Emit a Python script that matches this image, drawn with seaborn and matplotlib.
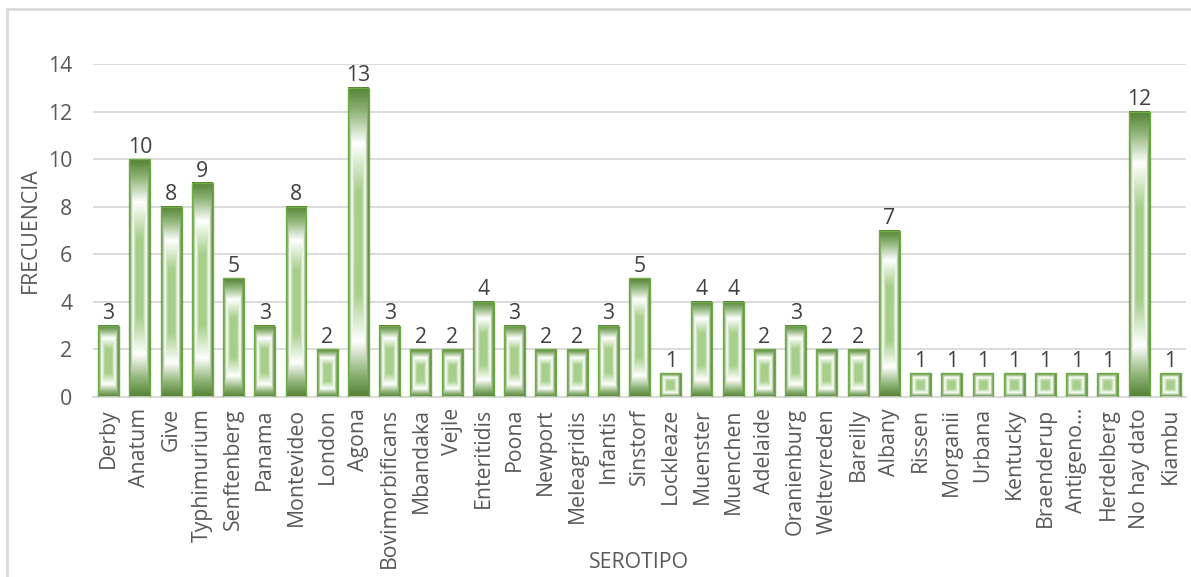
import numpy as np
import matplotlib
matplotlib.use("Agg")
import matplotlib.pyplot as plt
from matplotlib.colors import LinearSegmentedColormap
from matplotlib.lines import Line2D
import seaborn as sns

serotipos = ["Derby", "Anatum", "Give", "Typhimurium", "Senftenberg", "Panama",
             "Montevideo", "London", "Agona", "Bovimorbificans", "Mbandaka", "Vejle",
             "Enteritidis", "Poona", "Newport", "Meleagridis", "Infantis", "Sinstorf",
             "Lockleaze", "Muenster", "Muenchen", "Adelaide", "Oranienburg",
             "Weltevreden", "Bareilly", "Albany", "Rissen", "Morganii", "Urbana",
             "Kentucky", "Braenderup", "Antigeno…", "Herdelberg", "No hay dato", "Kiambu"]
frecuencia = [3, 10, 8, 9, 5, 3, 8, 2, 13, 3, 2, 2, 4, 3, 2, 2, 3, 5, 1, 4, 4, 2, 3,
              2, 2, 7, 1, 1, 1, 1, 1, 1, 1, 12, 1]
y_ticks = [0, 2, 4, 6, 8, 10, 12, 14]

sns.set_theme(style="white")
plt.rcParams["font.family"] = ["Open Sans", "DejaVu Sans"]

TICK_COLOR = "#595959"
LABEL_COLOR = "#404040"
GRID_COLOR = "#d9d9d9"
FS = 15.3

fig = plt.figure(figsize=(11.91, 5.77), dpi=100)
ax = fig.add_axes([93 / 1191, 1 - 397 / 577, (1186 - 93) / 1191, (397 - 64) / 577])

sns.barplot(x=serotipos, y=frecuencia, color="#a9d18e", width=0.67, ax=ax,
            saturation=1)

# rectangular (path) gradient: dark green rim -> white -> light green core
grad = LinearSegmentedColormap.from_list(
    "rect_green",
    [(0.0, "#a9d18e"), (0.33, "#a6cf8a"), (0.64, "#ffffff"),
     (0.85, "#8fb477"), (1.0, "#548235")])
n = 301
u = np.linspace(-1, 1, n)
uu, vv = np.meshgrid(u, u)
tt = np.maximum(np.abs(uu), np.abs(vv))
img = grad(tt)

for p in ax.patches:
    x0, w, h = p.get_x(), p.get_width(), p.get_height()
    ax.imshow(img, extent=(x0, x0 + w, 0, h), aspect="auto", zorder=2,
              interpolation="bilinear")
    p.set_facecolor("none")
    p.set_edgecolor("#70ad47")
    p.set_linewidth(1.0)
    p.set_zorder(3)

ax.set_xlim(-0.5, len(serotipos) - 0.5)
ax.set_ylim(0, 14)
ax.set_yticks(y_ticks)
ax.set_yticklabels([str(t) for t in y_ticks])

ax.bar_label(ax.containers[0], labels=[str(v) for v in frecuencia], padding=1,
             fontsize=FS, color=LABEL_COLOR, zorder=4)

ax.grid(axis="y", color=GRID_COLOR, linewidth=1.3)
ax.set_axisbelow(True)
for side in ["top", "right", "left"]:
    ax.spines[side].set_visible(False)
ax.spines["bottom"].set_color(GRID_COLOR)
ax.spines["bottom"].set_linewidth(1.3)

ax.tick_params(axis="y", length=0, pad=15, labelsize=FS, labelcolor=TICK_COLOR)
ax.tick_params(axis="x", length=0, pad=8, labelsize=FS, labelcolor=TICK_COLOR)
plt.setp(ax.get_xticklabels(), rotation=90, ha="center", va="top")

ax.set_ylabel("FRECUENCIA", fontsize=FS, color=TICK_COLOR)
ax.set_xlabel("SEROTIPO", fontsize=FS, color=TICK_COLOR)
ax.yaxis.set_label_coords((30 - 93) / (1186 - 93), 0.5)
ax.xaxis.set_label_coords(0.5, -(562 - 397) / (397 - 64))
ax.xaxis.label.set_va("center")
ax.yaxis.label.set_va("center")

# chart-area frame (left and top edges)
fig.add_artist(Line2D([7 / 1191, 7 / 1191], [0, 1 - 9 / 577],
                      transform=fig.transFigure, color=GRID_COLOR, linewidth=2))
fig.add_artist(Line2D([7 / 1191, 1], [1 - 9 / 577, 1 - 9 / 577],
                      transform=fig.transFigure, color=GRID_COLOR, linewidth=2))

fig.savefig("out.png", dpi=100, facecolor="white")
